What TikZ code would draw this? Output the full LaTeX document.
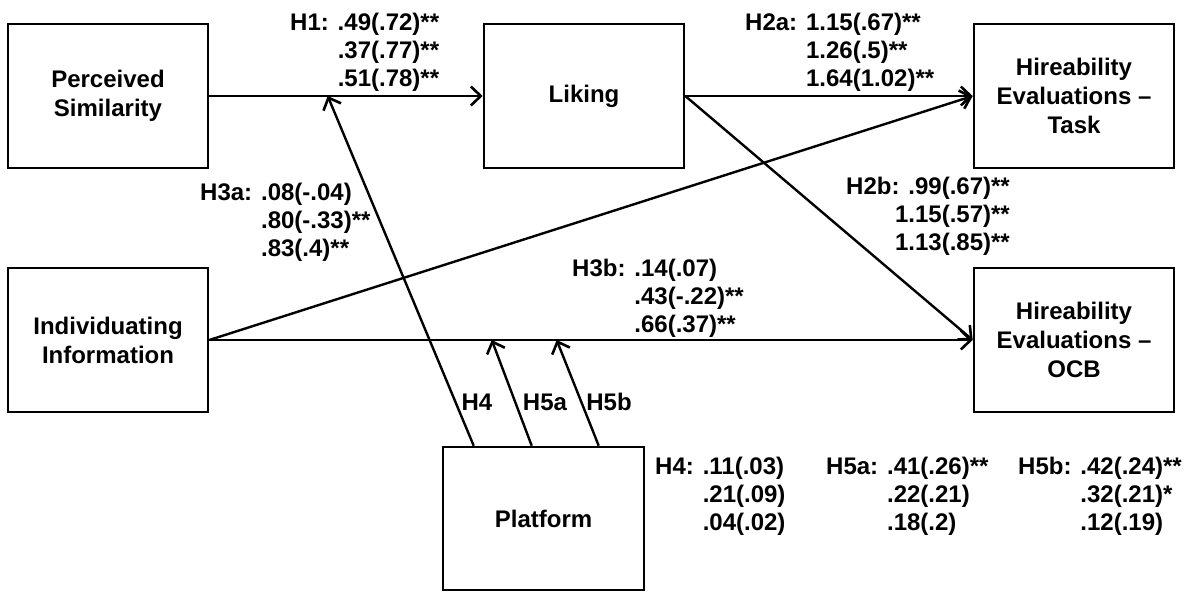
\documentclass[tikz,border=0pt]{standalone}
\usepackage{fontspec}
\setmainfont{Liberation Sans}
\usetikzlibrary{arrows.meta,calc}
\begin{document}
\begin{tikzpicture}[x=1pt,y=-1pt,
  every node/.style={font=\fontsize{24}{28}\selectfont\bfseries},
  varbox/.style={draw,line width=2.6pt,minimum width=200pt,minimum height=144pt,align=center,inner sep=0pt,font=\fontsize{24}{29}\selectfont\bfseries},
  arr/.style={line width=2.4pt,-{Straight Barb[length=10pt,width=19pt,line width=2.6pt]}},
  stat/.style={inner sep=0pt,align=left}]
\useasboundingbox (0,0) rectangle (1199,592);
% boxes
\node[varbox] (ps) at (108,96) {Perceived\\Similarity};
\node[varbox] (lik) at (584,96) {Liking};
\node[varbox] (task) at (1074,96) {Hireability\\Evaluations --\\Task};
\node[varbox] (ii) at (108,340) {Individuating\\Information};
\node[varbox] (ocb) at (1074,340) {Hireability\\Evaluations --\\OCB};
\node[varbox,minimum width=201pt,minimum height=143pt] (plat) at (543.5,518.5) {Platform};
% main paths
\draw[arr] (ps.east) -- (lik.west);
\draw[arr] (lik.east) -- (task.west);
\draw[arr] (lik.east) -- (ocb.west);
\draw[arr] (ii.east) -- (task.west);
\draw[arr] (ii.east) -- (ocb.west);
% moderation arrows
\coordinate (h4tip) at ($(ps.east)!0.433!(lik.west)$);
\coordinate (h5atip) at ($(ii.east)!0.370!(ocb.west)$);
\coordinate (h5btip) at ($(ii.east)!0.455!(ocb.west)$);
\coordinate (h4base) at ($(plat.north west)+(32,0)$);
\coordinate (h5abase) at ($(plat.north west)+(90,0)$);
\coordinate (h5bbase) at ($(plat.north west)+(157,0)$);
\draw[arr] (h4base) -- (h4tip);
\draw[arr] (h5abase) -- (h5atip);
\draw[arr] (h5bbase) -- (h5btip);
\node (lh4) at (477,402) {H4};
\node (lh5a) at (545,402) {H5a};
\node (lh5b) at (609,402) {H5b};
% statistics
\node[stat,anchor=north west] (sh1) at (290,11) {\begin{tabular}{@{}r@{ }l@{}}H1: & .49(.72)**\\ & .37(.77)**\\ & .51(.78)**\end{tabular}};
\node[stat,anchor=north west] (sh2a) at (745,11) {\begin{tabular}{@{}r@{ }l@{}}H2a: & 1.15(.67)**\\ & 1.26(.5)**\\ & 1.64(1.02)**\end{tabular}};
\node[stat,anchor=north east,align=right] (sh2b) at (1010,177) {H2b: .99(.67)**\\1.15(.57)**\\1.13(.85)**};
\node[stat,anchor=north west] (sh3a) at (200,181) {\begin{tabular}{@{}r@{ }l@{}}H3a: & .08(-.04)\\ & .80(-.33)**\\ & .83(.4)**\end{tabular}};
\node[stat,anchor=north west] (sh3b) at (572,257) {\begin{tabular}{@{}r@{ }l@{}}H3b: & .14(.07)\\ & .43(-.22)**\\ & .66(.37)**\end{tabular}};
\node[stat,anchor=north west] (sh4) at (655,455) {\begin{tabular}{@{}r@{ }l@{}}H4: & .11(.03)\\ & .21(.09)\\ & .04(.02)\end{tabular}};
\node[stat,anchor=north west] (sh5a) at (826,455) {\begin{tabular}{@{}r@{ }l@{}}H5a: & .41(.26)**\\ & .22(.21)\\ & .18(.2)\end{tabular}};
\node[stat,anchor=north west] (sh5b) at (1018,455) {\begin{tabular}{@{}r@{ }l@{}}H5b: & .42(.24)**\\ & .32(.21)*\\ & .12(.19)\end{tabular}};
\end{tikzpicture}
\end{document}
